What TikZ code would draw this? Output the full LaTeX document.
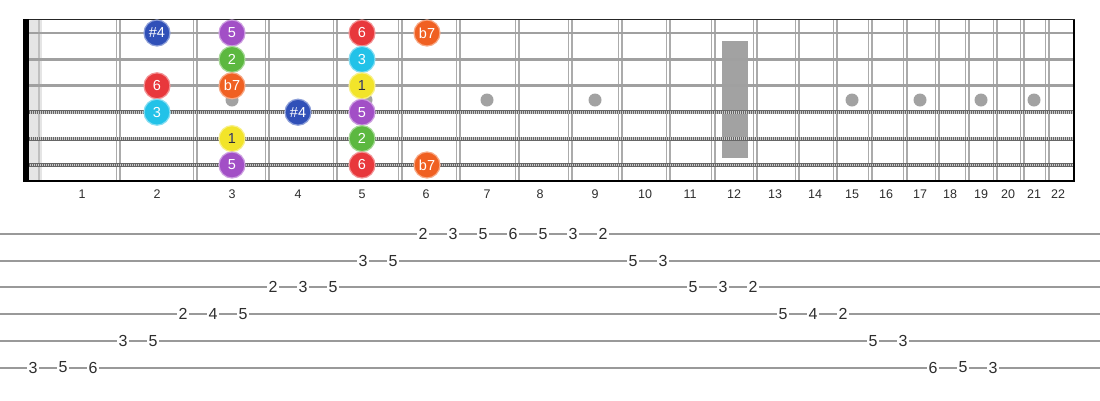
\documentclass[tikz,border=0pt]{standalone}
\usepackage{fontspec}
\setmainfont{Liberation Sans}
\definecolor{cfour}{HTML}{3050B8}
\definecolor{cfive}{HTML}{A24FC6}
\definecolor{ctwo}{HTML}{5CB840}
\definecolor{csix}{HTML}{E8383C}
\definecolor{cseven}{HTML}{F06022}
\definecolor{cthree}{HTML}{22C2E8}
\definecolor{cone}{HTML}{F2E42A}
\definecolor{fretgray}{HTML}{ABABAB}
\definecolor{strgray}{HTML}{A0A0A0}
\definecolor{dotgray}{HTML}{A2A2A2}
\definecolor{txtgray}{HTML}{2E2E2E}
\begin{document}
\begin{tikzpicture}[x=1pt,y=-1pt,
  fretline/.style={draw=fretgray,line width=1.4pt},
  plainstr/.style={draw=strgray,line width=2.8pt},
  woundbase/.style={draw=black!60,line width=4.2pt},
  woundtop/.style={draw=black!20,line width=2.6pt,dash pattern=on 1pt off 1pt},
  fretnum/.style={font=\fontsize{12.5}{12.5}\selectfont,text=txtgray,inner sep=0pt},
  tabnum/.style={font=\fontsize{16}{16}\selectfont,text=txtgray,fill=white,inner sep=1.2pt},
  tabline/.style={draw=black!40,line width=2pt},
  note/.style={circle,minimum size=26pt,inner sep=0pt,line width=1.2pt,
    font=\fontsize{14.5}{14.5}\selectfont,text=white},
  inlay/.style={circle,fill=dotgray,minimum size=13pt,inner sep=0pt}]
\useasboundingbox (0,0) rectangle (1100,400);
\fill[white] (0,0) rectangle (1100,400);
% nut area
\fill[black!10] (29,19.5) rectangle (42,180.5);
\draw[black!25,line width=2pt] (38.5,19.5) -- (38.5,180.5);
% frets
\foreach \x in {118,195,267,335,400,458,517,570,620,668,713,755,797,835,870,905,937,967,995,1022,1047}{
  \draw[fretline] (\x-1.8,19.5) -- (\x-1.8,180.5);
  \draw[fretline] (\x+1.8,19.5) -- (\x+1.8,180.5);
}
% inlays
\foreach \x [count=\i] in {232,366,487,595,852,920,981,1034}
  \node[inlay] (dot\i) at (\x,100) {};
\fill[dotgray] (722,41) rectangle (748,158);
% strings
\foreach \y in {33,59.4,85.8}
  \draw[plainstr] (28,\y) -- (1074,\y);
\foreach \y in {112.2,138.6,165}{
  \draw[woundbase] (28,\y) -- (1074,\y);
  \draw[woundtop] (28,\y) -- (1074,\y);
}
% borders
\draw[black!85,line width=1.6pt] (23,19.5) -- (1075,19.5);
\draw[black,line width=2pt] (23,180.5) -- (1075,180.5);
\draw[black,line width=2pt] (1074,19.5) -- (1074,180.5);
\fill[black] (23,19) rectangle (28.5,181.5);
% fret numbers
\foreach \x [count=\i] in {82,157,232,298,362,426,487,540,595,645,690,734,775,815,852,886,920,950,981,1008,1034,1058}
  \node[fretnum] (fn\i) at (\x,194) {\i};
% notes
\foreach \x/\y/\c/\t [count=\i] in {
  157/33/cfour/\#4, 232/33/cfive/5, 362/33/csix/6, 427/33/cseven/b7,
  232/59.4/ctwo/2, 362/59.4/cthree/3,
  157/85.8/csix/6, 232/85.8/cseven/b7, 362/85.8/cone/1,
  157/112.2/cthree/3, 298/112.2/cfour/\#4, 362/112.2/cfive/5,
  232/138.6/cone/1, 362/138.6/ctwo/2,
  232/165/cfive/5, 362/165/csix/6, 427/165/cseven/b7}
  \node[note,fill=\c,draw=\c!55!white] (note\i) at (\x,\y) {\t};
\foreach \i in {9,13} \node[font=\fontsize{14.5}{14.5}\selectfont,text=txtgray] at (note\i) {1};
% tab lines
\foreach \y [count=\i] in {234,260.7,287.4,314.1,340.8,367.5}
  \draw[tabline] (0,\y) -- (1100,\y);
% tab numbers
\foreach \k/\s/\d in {0/6/3,1/6/5,2/6/6,3/5/3,4/5/5,5/4/2,6/4/4,7/4/5,8/3/2,9/3/3,10/3/5,
  11/2/3,12/2/5,13/1/2,14/1/3,15/1/5,16/1/6,17/1/5,18/1/3,19/1/2,20/2/5,21/2/3,
  22/3/5,23/3/3,24/3/2,25/4/5,26/4/4,27/4/2,28/5/5,29/5/3,30/6/6,31/6/5,32/6/3}
  \node[tabnum] (tab\k) at (33+30*\k,234+26.7*\s-26.7) {\d};
\end{tikzpicture}
\end{document}
